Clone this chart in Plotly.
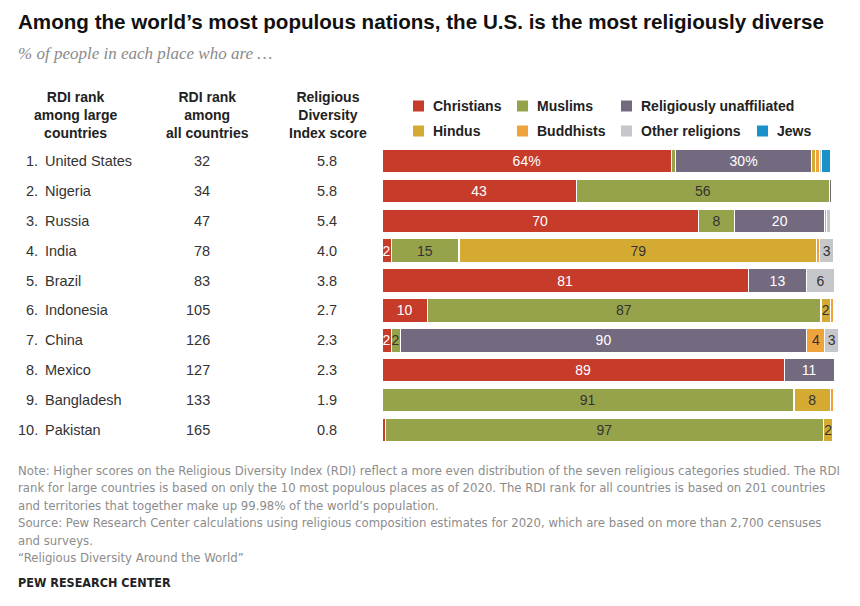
import plotly.graph_objects as go

# data
countries = ['United States', 'Nigeria', 'Russia', 'India', 'Brazil',
             'Indonesia', 'China', 'Mexico', 'Bangladesh', 'Pakistan']
rank_large = [1, 2, 3, 4, 5, 6, 7, 8, 9, 10]
rank_all = [32, 34, 47, 78, 83, 105, 126, 127, 133, 165]
rdi_score = ['5.8', '5.8', '5.4', '4.0', '3.8', '2.7', '2.3', '2.3', '1.9', '0.8']

religions = ['Christians', 'Muslims', 'Religiously unaffiliated', 'Hindus',
             'Buddhists', 'Other religions', 'Jews']
christians = [64, 43, 70, 2, 81, 10, 2, 89, 0, 0.7]
muslims = [1, 56, 8, 15, 0, 87, 2, 0, 91, 97]
unaffiliated = [30, 0.4, 20, 0.2, 13, 0.2, 90, 11, 0.2, 0]
hindus = [0.9, 0, 0, 79, 0, 2, 0, 0, 8, 2]
buddhists = [0.9, 0, 0.4, 0.7, 0, 0.7, 4, 0, 0.6, 0]
other = [0.5, 0.3, 0.8, 3, 6, 0, 3, 0, 0, 0]
jews = [1.9, 0, 0, 0, 0, 0, 0, 0, 0, 0]

colors = ['#c73b2b', '#97a34a', '#746a80', '#d5aa33', '#eea33c', '#c6c7ca', '#1a91c8']
text_colors = ['white', '#333333', 'white', '#333333', '#333333', '#333333', '#333333']

notes = [
    'Note: Higher scores on the Religious Diversity Index (RDI) reflect a more even distribution of the seven religious categories studied. The RDI',
    'rank for large countries is based on only the 10 most populous places as of 2020. The RDI rank for all countries is based on 201 countries',
    'and territories that together make up 99.98% of the world\u2019s population.',
    'Source: Pew Research Center calculations using religious composition estimates for 2020, which are based on more than 2,700 censuses',
    'and surveys.',
    '\u201cReligious Diversity Around the World\u201d',
]

# the page body has an 8px margin, so the figure is drawn 8px in from the window edge
OFF = 8
W, H = 860 - OFF, 606 - OFF
BAR_LEFT, PX_PER_PCT = 382, 4.52
X_MAX = 101
narrow = 'Liberation Sans Narrow, DejaVu Sans Condensed, Liberation Sans, sans-serif'
sans = 'Liberation Sans, Arial, sans-serif'


def px_x(x):
    return (x - OFF) / W


def px_y(y):
    return 1 - (y - OFF) / H


def label(v, i):
    if v < 2:
        return ''
    if i == 0 and v in (64, 30):
        return f'{v}%'
    return f'{v:g}'


fig = go.Figure()
for k, (name, vals) in enumerate(zip(religions, [christians, muslims, unaffiliated, hindus,
                                                  buddhists, other, jews])):
    fig.add_trace(go.Bar(
        y=countries, x=vals, name=name, orientation='h',
        marker=dict(color=colors[k], line=dict(color='white', width=1)),
        text=[label(v, i) for i, v in enumerate(vals)],
        textposition='inside', insidetextanchor='middle', constraintext='none',
        textfont=dict(family=sans, size=14, color=text_colors[k]),
        hoverinfo='x+name', showlegend=False,
    ))

y_top, y_bot = 146, 445
fig.update_layout(
    width=W, height=H, barmode='stack', bargap=0.22,
    margin=dict(l=0, r=0, t=0, b=0),
    paper_bgcolor='white', plot_bgcolor='white',
    font=dict(family=sans, color='#333333'),
    xaxis=dict(domain=[px_x(BAR_LEFT), px_x(BAR_LEFT + PX_PER_PCT * X_MAX)], range=[0, X_MAX],
               visible=False, fixedrange=True),
    yaxis=dict(domain=[px_y(y_bot), px_y(y_top)], autorange='reversed',
               visible=False, fixedrange=True),
)

ann = []
# title and subtitle
ann.append(dict(x=px_x(16), y=px_y(22), text='<b>Among the world\u2019s most populous nations, the U.S. is the most religiously diverse</b>',
                font=dict(family=sans, size=20.6, color='#111111'), xanchor='left', yanchor='middle'))
ann.append(dict(x=px_x(16), y=px_y(53), text='<i>% of people in each place who are \u2026</i>',
                font=dict(family='Liberation Serif, serif', size=17, color='#8a8a8a'), xanchor='left', yanchor='middle'))

# column headers
headers = [(75, 'RDI rank<br>among large<br>countries'),
           (207, 'RDI rank<br>among<br>all countries'),
           (328, 'Religious<br>Diversity<br>Index score')]
for cx, t in headers:
    ann.append(dict(x=px_x(cx), y=px_y(115), text=f'<b>{t}</b>', align='center',
                    font=dict(family=sans, size=14, color='#222222'), xanchor='center', yanchor='middle'))

# table rows
for c, r, ra, s in zip(countries, rank_large, rank_all, rdi_score):
    ann.append(dict(x=px_x(40), y=c, yref='y', text=f'{r}.', xanchor='right', yanchor='middle',
                    font=dict(family=sans, size=14.5, color='#333333')))
    ann.append(dict(x=px_x(43), y=c, yref='y', text=c, xanchor='left', yanchor='middle',
                    font=dict(family=sans, size=14.5, color='#333333')))
    ann.append(dict(x=px_x(212), y=c, yref='y', text=str(ra), xanchor='right', yanchor='middle',
                    font=dict(family=sans, size=14.5, color='#333333')))
    ann.append(dict(x=px_x(339), y=c, yref='y', text=s, xanchor='right', yanchor='middle',
                    font=dict(family=sans, size=14.5, color='#333333')))

# legend (two rows of swatches)
legend_pos = [(413, 106), (517, 106), (621, 106), (413, 131), (517, 131), (621, 131), (757, 131)]
shapes = []
for (lx, ly), name, col in zip(legend_pos, religions, colors):
    shapes.append(dict(type='rect', xref='paper', yref='paper', x0=px_x(lx), x1=px_x(lx + 11),
                       y0=px_y(ly - 5.5), y1=px_y(ly + 5.5), fillcolor=col, line=dict(width=0)))
    ann.append(dict(x=px_x(lx + 18), y=px_y(ly), text=f'<b>{name}</b>', xanchor='left', yanchor='middle',
                    font=dict(family=sans, size=14, color='#222222')))

# notes
for i, line in enumerate(notes):
    ann.append(dict(x=px_x(16), y=px_y(470 + 17.5 * i), text=line, xanchor='left', yanchor='middle',
                    font=dict(family=narrow, size=13, color='#8c8c8c')))
ann.append(dict(x=px_x(16), y=px_y(582), text='<b>PEW RESEARCH CENTER</b>', xanchor='left', yanchor='middle',
                font=dict(family=narrow, size=12.5, color='#222222')))

for a in ann:
    a.setdefault('xref', 'paper')
    a.setdefault('yref', 'paper')
    a['showarrow'] = False
fig.update_layout(annotations=ann, shapes=shapes)

fig.write_html('out.html')
